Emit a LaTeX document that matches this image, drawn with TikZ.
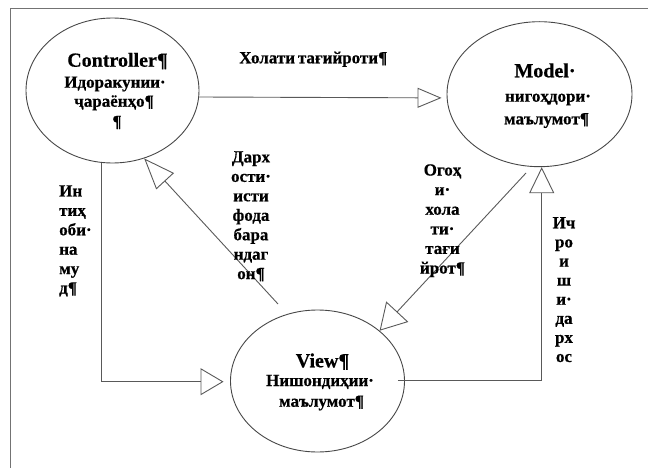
\documentclass[tikz,border=0pt]{standalone}
\usepackage{fontspec}
\setmainfont[BoldFeatures={FakeBold=0.6}]{Liberation Serif}
\usetikzlibrary{shapes.geometric,arrows.meta}
\begin{document}
\begin{tikzpicture}[x=1pt,y=-1pt,
  lin/.style={draw=black!65, line width=0.9pt},
  ell/.style={ellipse, draw=black!72, line width=0.9pt, inner sep=0pt},
  tri/.style 2 args={-{Triangle[open,length=#1,width=#2]}},
  ttl/.style={font=\fontsize{20}{24}\selectfont\bfseries, inner sep=0pt, anchor=base},
  txt/.style={font=\fontsize{17}{20}\selectfont\bfseries, inner sep=0pt, anchor=base},
]
\useasboundingbox (0,0) rectangle (648,468);
% page frame
\draw[draw=black!55, line width=1.2pt] (648,8.3) -- (10.7,8.3) -- (10.7,468);

% ellipses
\node[ell, minimum width=173pt, minimum height=145pt] (ctrl) at (112.5,90.5) {};
\node[ell, minimum width=185pt, minimum height=145pt] (model) at (539.5,94.2) {};
\node[ell, minimum width=174pt, minimum height=142pt] (view) at (317.5,381) {};

% connectors
\draw[lin, tri={24pt}{20pt}] ([yshift=-6.5pt]ctrl.east) -- ([xshift=-5pt,yshift=-3.7pt]model.west);
\draw[lin, tri={23pt}{27pt}] ([xshift=-10.8pt]ctrl.south) |- ([xshift=-6.5pt,yshift=-0.7pt]view.west);
\coordinate (vstart) at (278,304);
\draw[lin, tri={31pt}{24pt}] (vstart) -- (ctrl.-65.2);
\coordinate (mstart) at (526,173);
\draw[lin, tri={26pt}{30pt}] (mstart) -- (view.39.8);
\draw[lin, tri={26pt}{25pt}] ([xshift=-7pt,yshift=1pt]view.east) -| ([xshift=2.2pt]model.south);

% texts in ellipses
\node[ttl] (cT) at (117.5,66.7) {Controller¶};
\node[txt] (c1) at (115,87.7) {Идоракунии·};
\node[txt] (c2) at (114,106.7) {ҷараёнҳо¶};
\node[txt] (c3) at (117,127) {¶};

\node[ttl] (mT) at (545,77.3) {Model·};
\node[txt] (m1) at (548,101.7) {нигоҳдори·};
\node[txt] (m2) at (546.5,124.3) {маълумот¶};

\node[ttl] (vT) at (322.5,367.3) {View¶};
\node[txt] (v1) at (320,386) {Нишондиҳии·};
\node[txt] (v2) at (321.5,406.7) {маълумот¶};

% connector labels
\node[txt] (top) at (313.3,63.3) {Холати\,тағийроти¶};
\foreach \w [count=\i] in {Дарх,ости·,исти,фода,бара,ндаг,он¶}
  \node[txt] (dl\i) at (251,{162.4+19.45*(\i-1)}) {\w};
\foreach \w [count=\i] in {Ин,тиҳ,оби·,на,му,д¶}
  \node[txt, anchor=base west] (il\i) at (59,{196.5+19.4*(\i-1)}) {\w};
\foreach \w [count=\i] in {Огоҳ,и·,хола,ти·,тағи,йрот¶}
  \node[txt] (ol\i) at (442.5,{175.5+19.6*(\i-1)}) {\w};
\foreach \w [count=\i] in {Ич,ро,и,ш,и·,да,рх,ос}
  \node[txt] (rl\i) at (564,{228.3+19.1*(\i-1)}) {\w};
\end{tikzpicture}
\end{document}
